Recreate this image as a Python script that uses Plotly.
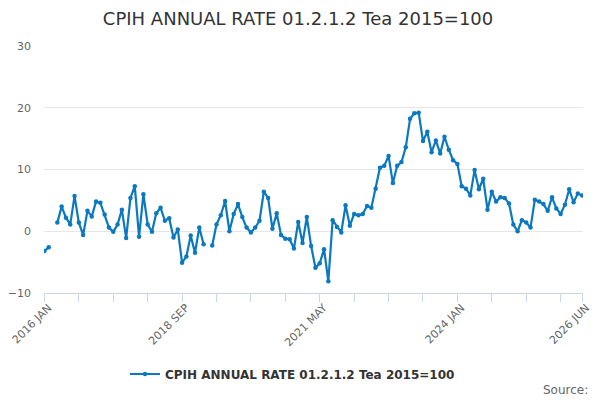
import plotly.graph_objects as go

# Monthly series, 2016 JAN .. 2026 JUN (None = missing month)
months = ["JAN", "FEB", "MAR", "APR", "MAY", "JUN",
          "JUL", "AUG", "SEP", "OCT", "NOV", "DEC"]
periods = [f"{2016 + i // 12} {months[i % 12]}" for i in range(126)]

rate = [
    -3.2, -2.6, None, 1.4, 4.0, 2.2, 1.1, 5.7, 1.4, -0.6, 3.3, 2.4,
    4.8, 4.6, 2.7, 0.6, -0.1, 1.1, 3.5, -1.1, 5.4, 7.3, -0.9, 6.0,
    1.1, -0.1, 2.9, 3.8, 1.7, 2.1, -1.0, 0.3, -5.1, -4.1, -0.7, -3.5,
    0.6, -2.1, None, -2.3, 1.1, 2.6, 4.9, 0.0, 2.8, 4.4, 2.3, 0.6,
    -0.2, 0.6, 1.7, 6.4, 5.4, 0.4, 2.9, -0.6, -1.2, -1.3, -2.8, 1.5,
    -1.9, 2.3, -2.4, -5.9, -5.2, -2.9, -8.1, 1.8, 0.7, -0.2, 4.2, 0.9,
    2.8, 2.6, 2.8, 4.1, 3.8, 6.9, 10.3, 10.6, 12.2, 7.8, 10.6, 11.2,
    13.6, 18.2, 19.1, 19.2, 14.6, 16.1, 12.8, 14.7, 12.6, 15.3, 13.2, 11.5,
    10.9, 7.3, 6.9, 5.8, 9.9, 6.8, 8.5, 3.5, 6.4, 4.8, 5.5, 5.4,
    4.5, 1.1, 0.0, 1.8, 1.4, 0.6, 5.1, 4.8, 4.4, 3.3, 5.5, 3.7,
    2.8, 4.3, 6.8, 4.7, 6.1, 5.8,
]

labelled = ["2016 JAN", "2018 SEP", "2021 MAY", "2024 JAN", "2026 JUN"]
tick_pos = [periods[i] for i in range(0, 126, 8)] + [periods[-1]]
tick_txt = [p if p in labelled else "" for p in tick_pos]

name = "CPIH ANNUAL RATE 01.2.1.2 Tea 2015=100"
blue = "#0b79c0"

fig = go.Figure()
fig.add_trace(go.Scatter(
    x=periods,
    y=rate,
    mode="lines+markers",
    name=name,
    connectgaps=False,
    line=dict(color=blue, width=2.2),
    marker=dict(color=blue, size=4.5),
))

# page body adds an 8px offset, so the figure is drawn slightly smaller
fig.update_layout(
    width=592,
    height=392,
    font=dict(family="DejaVu Sans", color="#666666"),
    paper_bgcolor="white",
    plot_bgcolor="white",
    margin=dict(l=36, r=17, t=38, b=107, autoexpand=False),
    title=dict(text=name, x=0.49, xref="container", y=0.974, yanchor="middle",
               font=dict(size=18, color="#333333")),
    xaxis=dict(
        type="category",
        range=[-0.1, 125.2],
        tickmode="array",
        tickvals=tick_pos,
        ticktext=tick_txt,
        tickangle=-45,
        ticks="outside",
        ticklen=8,
        tickcolor="#ccd6eb",
        showline=True,
        linecolor="#ccd6eb",
        showgrid=False,
        automargin=False,
        ticklabelstandoff=-5,
        ticklabelshift=4,
        tickfont=dict(size=11, color="#666666"),
    ),
    yaxis=dict(
        range=[-10, 30],
        tickvals=[-10, 0, 10, 20, 30],
        gridcolor="#e6e6e6",
        zeroline=False,
        showline=False,
        automargin=False,
        ticklabelstandoff=12,
        tickfont=dict(size=11, color="#666666"),
    ),
    showlegend=True,
    legend=dict(
        orientation="h",
        x=0.461, xanchor="center",
        y=-0.328, yanchor="middle",
        font=dict(size=12, color="#333333", weight="bold"),
        itemwidth=30,
    ),
    annotations=[dict(
        text="Source:", xref="paper", yref="paper",
        x=1.013, y=-0.393, xanchor="right", yanchor="middle",
        showarrow=False, font=dict(size=12, color="#666666"),
    )],
)

fig.write_html("out.html")
